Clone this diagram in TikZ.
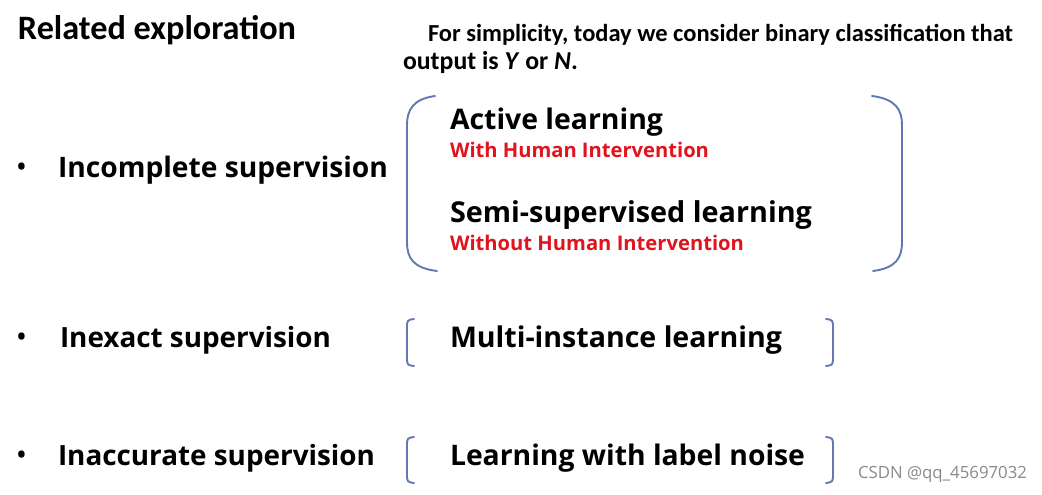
\documentclass[tikz,border=0pt]{standalone}
\usepackage{fontspec}
\usepackage{graphicx}
\setmainfont{Open Sans}
\newfontfamily\calfont{Carlito}
\definecolor{brk}{HTML}{6178B4}
\definecolor{redtxt}{HTML}{E0141E}
\definecolor{wm}{HTML}{8A8A8A}
\newcommand{\fitw}[2]{\resizebox{#1pt}{!}{#2}}
\begin{document}
\begin{tikzpicture}[x=1pt,y=-1pt,
  every node/.style={inner sep=0pt,outer sep=0pt,anchor=west},
  heading/.style={font=\calfont\bfseries\fontsize{29}{32}\selectfont},
  note/.style={font=\calfont\bfseries\fontsize{21.5}{24}\selectfont},
  cat/.style={font=\bfseries\fontsize{25.5}{30}\selectfont},
  item/.style={font=\bfseries\fontsize{25.5}{30}\selectfont},
  redsub/.style={font=\bfseries\fontsize{17.5}{20}\selectfont,text=redtxt},
  bullet/.style={font=\fontsize{30}{30}\selectfont},
  brace/.style={draw=brk,line width=1.9pt,line cap=round},
  watermark/.style={font=\fontsize{15}{18}\selectfont,text=wm}]
\useasboundingbox (0,0) rectangle (1042,495);
\fill[white] (0,0) rectangle (1042,495);

\node[heading] (title) at (18,30) {\fitw{278}{Related exploration}};
\node[note] (note1) at (428,35) {\fitw{585}{For simplicity, today we consider binary classification that}};
\node[note] (note2) at (403,62) {\fitw{175}{output is \textit{Y} or \textit{N}.}};

\node[bullet] (b1) at (16,170) {•};
\node[bullet] (b2) at (16,340) {•};
\node[bullet] (b3) at (16,458) {•};

\node[cat] (c1) at (58,170) {\fitw{330}{Incomplete supervision}};
\node[cat] (c2) at (60,340) {\fitw{271}{Inexact supervision}};
\node[cat] (c3) at (58,458) {\fitw{317}{Inaccurate supervision}};

\node[item] (al) at (450,122) {\fitw{213}{Active learning}};
\node[redsub] (alr) at (450,150) {\fitw{259}{With Human Intervention}};
\node[item] (ssl) at (450,215) {\fitw{362}{Semi-supervised learning}};
\node[redsub] (sslr) at (450,243) {\fitw{294}{Without Human Intervention}};
\node[item] (mil) at (450,340) {\fitw{332}{Multi-instance learning}};
\node[item] (lln) at (450,458) {\fitw{355}{Learning with label noise}};

% big brackets
\draw[brace] (435,96) .. controls (413,99) and (407,110) .. (407,125) -- (407,242) .. controls (407,258) and (413,268) .. (437,271);
\draw[brace] (872,96) .. controls (896,99) and (902,110) .. (902,125) -- (902,242) .. controls (902,258) and (896,268) .. (873,271);
% small brackets
\draw[brace] (414,319) .. controls (407,320) .. (407,329) -- (407,356) .. controls (407,365) .. (414,366);
\draw[brace] (826,319) .. controls (833,320) .. (833,329) -- (833,356) .. controls (833,365) .. (826,366);
\draw[brace] (414,437) .. controls (407,438) .. (407,447) -- (407,473) .. controls (407,482) .. (414,483);
\draw[brace] (826,437) .. controls (833,438) .. (833,447) -- (833,473) .. controls (833,482) .. (826,483);

\node[watermark] (wmk) at (858,474) {\fitw{169}{CSDN @qq\_45697032}};
\end{tikzpicture}
\end{document}
